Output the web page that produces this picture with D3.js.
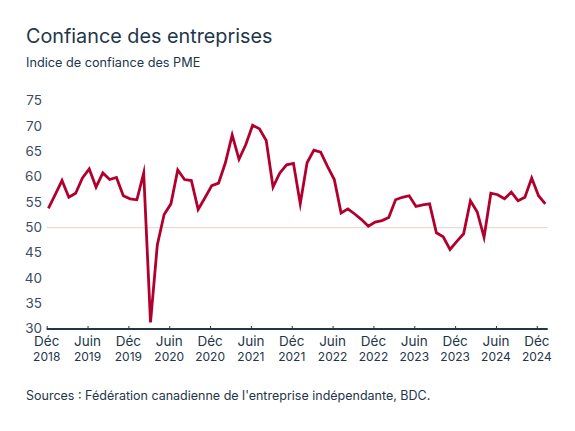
<!DOCTYPE html>
<html>
<head>
<meta charset="utf-8">
<script src="https://cdn.jsdelivr.net/npm/d3@7"></script>
<style>
  html, body { margin: 0; padding: 0; background: #ffffff; }
  svg { display: block; }
  text { font-family: Inter, "Open Sans", sans-serif; }
</style>
</head>
<body>
<svg id="chart" width="575" height="431"></svg>
<script>
// ---- Data (monthly, Dec 2018 -> Jan 2025) ----
const months = d3.range(74); // month index, 0 = Dec 2018
const values = [
  53.8, 56.5, 59.3, 56.0, 56.8, 59.8, 61.6, 58.0, 60.8, 59.5, 59.9, 56.3,
  55.7, 55.5, 60.8, 31.3, 46.6, 52.6, 54.7, 61.4, 59.5, 59.3, 53.6, 55.9,
  58.3, 58.8, 62.8, 68.3, 63.5, 66.4, 70.2, 69.5, 67.2, 58.0, 60.8, 62.4,
  62.7, 54.7, 62.8, 65.3, 64.9, 62.1, 59.5, 52.9, 53.7, 52.7, 51.6, 50.3,
  51.1, 51.4, 52.0, 55.5, 56.0, 56.3, 54.2, 54.5, 54.7, 49.0, 48.2, 45.7,
  47.3, 48.8, 55.3, 53.1, 48.1, 56.8, 56.5, 55.7, 57.0, 55.3, 56.0, 59.8,
  56.3, 54.7
];
const yTicks = [30, 35, 40, 45, 50, 55, 60, 65, 70, 75];
const xTickMonths = [0, 6, 12, 18, 24, 30, 36, 42, 48, 54, 60, 66, 72];
const xTickLabels = [
  ["Déc", "2018"], ["Juin", "2019"], ["Déc", "2019"], ["Juin", "2020"],
  ["Déc", "2020"], ["Juin", "2021"], ["Déc", "2021"], ["Juin", "2022"],
  ["Déc", "2022"], ["Juin", "2023"], ["Déc", "2023"], ["Juin", "2024"],
  ["Déc", "2024"]
];
const title = "Confiance des entreprises";
const subtitle = "Indice de confiance des PME";
const source = "Sources : Fédération canadienne de l'entreprise indépendante, BDC.";

// ---- Layout ----
const svg = d3.select("#chart");
const textColor = "#22364a";
const plotLeft = 46.7, plotRight = 547.7, plotTop = 101, plotBottom = 329;

const x = d3.scaleLinear().domain([0, 73.6]).range([plotLeft, plotRight]);
const y = d3.scaleLinear().domain([30, 75]).range([plotBottom, plotTop]);
const dataOffset = 0.25;

// Title / subtitle
svg.append("text").attr("x", 26).attr("y", 43)
  .attr("font-size", 19.8).attr("fill", textColor).text(title);
svg.append("text").attr("x", 26).attr("y", 67)
  .attr("font-size", 12.7).attr("fill", textColor).text(subtitle);

// Y tick labels
svg.append("g").selectAll("text").data(yTicks).join("text")
  .attr("x", 42).attr("y", d => y(d))
  .attr("dy", "0.32em").attr("text-anchor", "end")
  .attr("font-size", 13.5).attr("fill", "#3a4d60")
  .text(d => d);

// Gridline at 50
svg.append("line")
  .attr("x1", plotLeft).attr("x2", plotRight)
  .attr("y1", y(50)).attr("y2", y(50))
  .attr("stroke", "#e5dcd6").attr("stroke-width", 1.2);

// Line
const line = d3.line()
  .x((d, i) => x(months[i] + dataOffset))
  .y(d => y(d));
svg.append("path").datum(values)
  .attr("d", line)
  .attr("fill", "none")
  .attr("stroke", "#b1002d")
  .attr("stroke-width", 2.8)
  .attr("stroke-linejoin", "miter")
  .attr("stroke-miterlimit", 10);

// X axis
const xAxis = d3.axisBottom(x).tickValues(xTickMonths).tickSize(-3).tickFormat("");
const gx = svg.append("g").attr("transform", `translate(0,${plotBottom})`).call(xAxis);
gx.select(".domain").attr("stroke", textColor).attr("stroke-width", 2)
  .attr("d", `M${plotLeft},0H${plotRight}`);
gx.selectAll(".tick line").attr("stroke", textColor).attr("stroke-width", 1);

const lab = svg.append("g").selectAll("g").data(xTickMonths).join("g")
  .attr("transform", d => `translate(${x(d)},0)`);
lab.append("text").attr("y", 346).attr("text-anchor", "middle")
  .attr("font-size", 13.5).attr("fill", textColor)
  .text((d, i) => xTickLabels[i][0]);
lab.append("text").attr("y", 361).attr("text-anchor", "middle")
  .attr("font-size", 12).attr("fill", textColor)
  .text((d, i) => xTickLabels[i][1]);

// Source
svg.append("text").attr("x", 26).attr("y", 400)
  .attr("font-size", 12.5).attr("fill", textColor).text(source);
</script>
</body>
</html>
